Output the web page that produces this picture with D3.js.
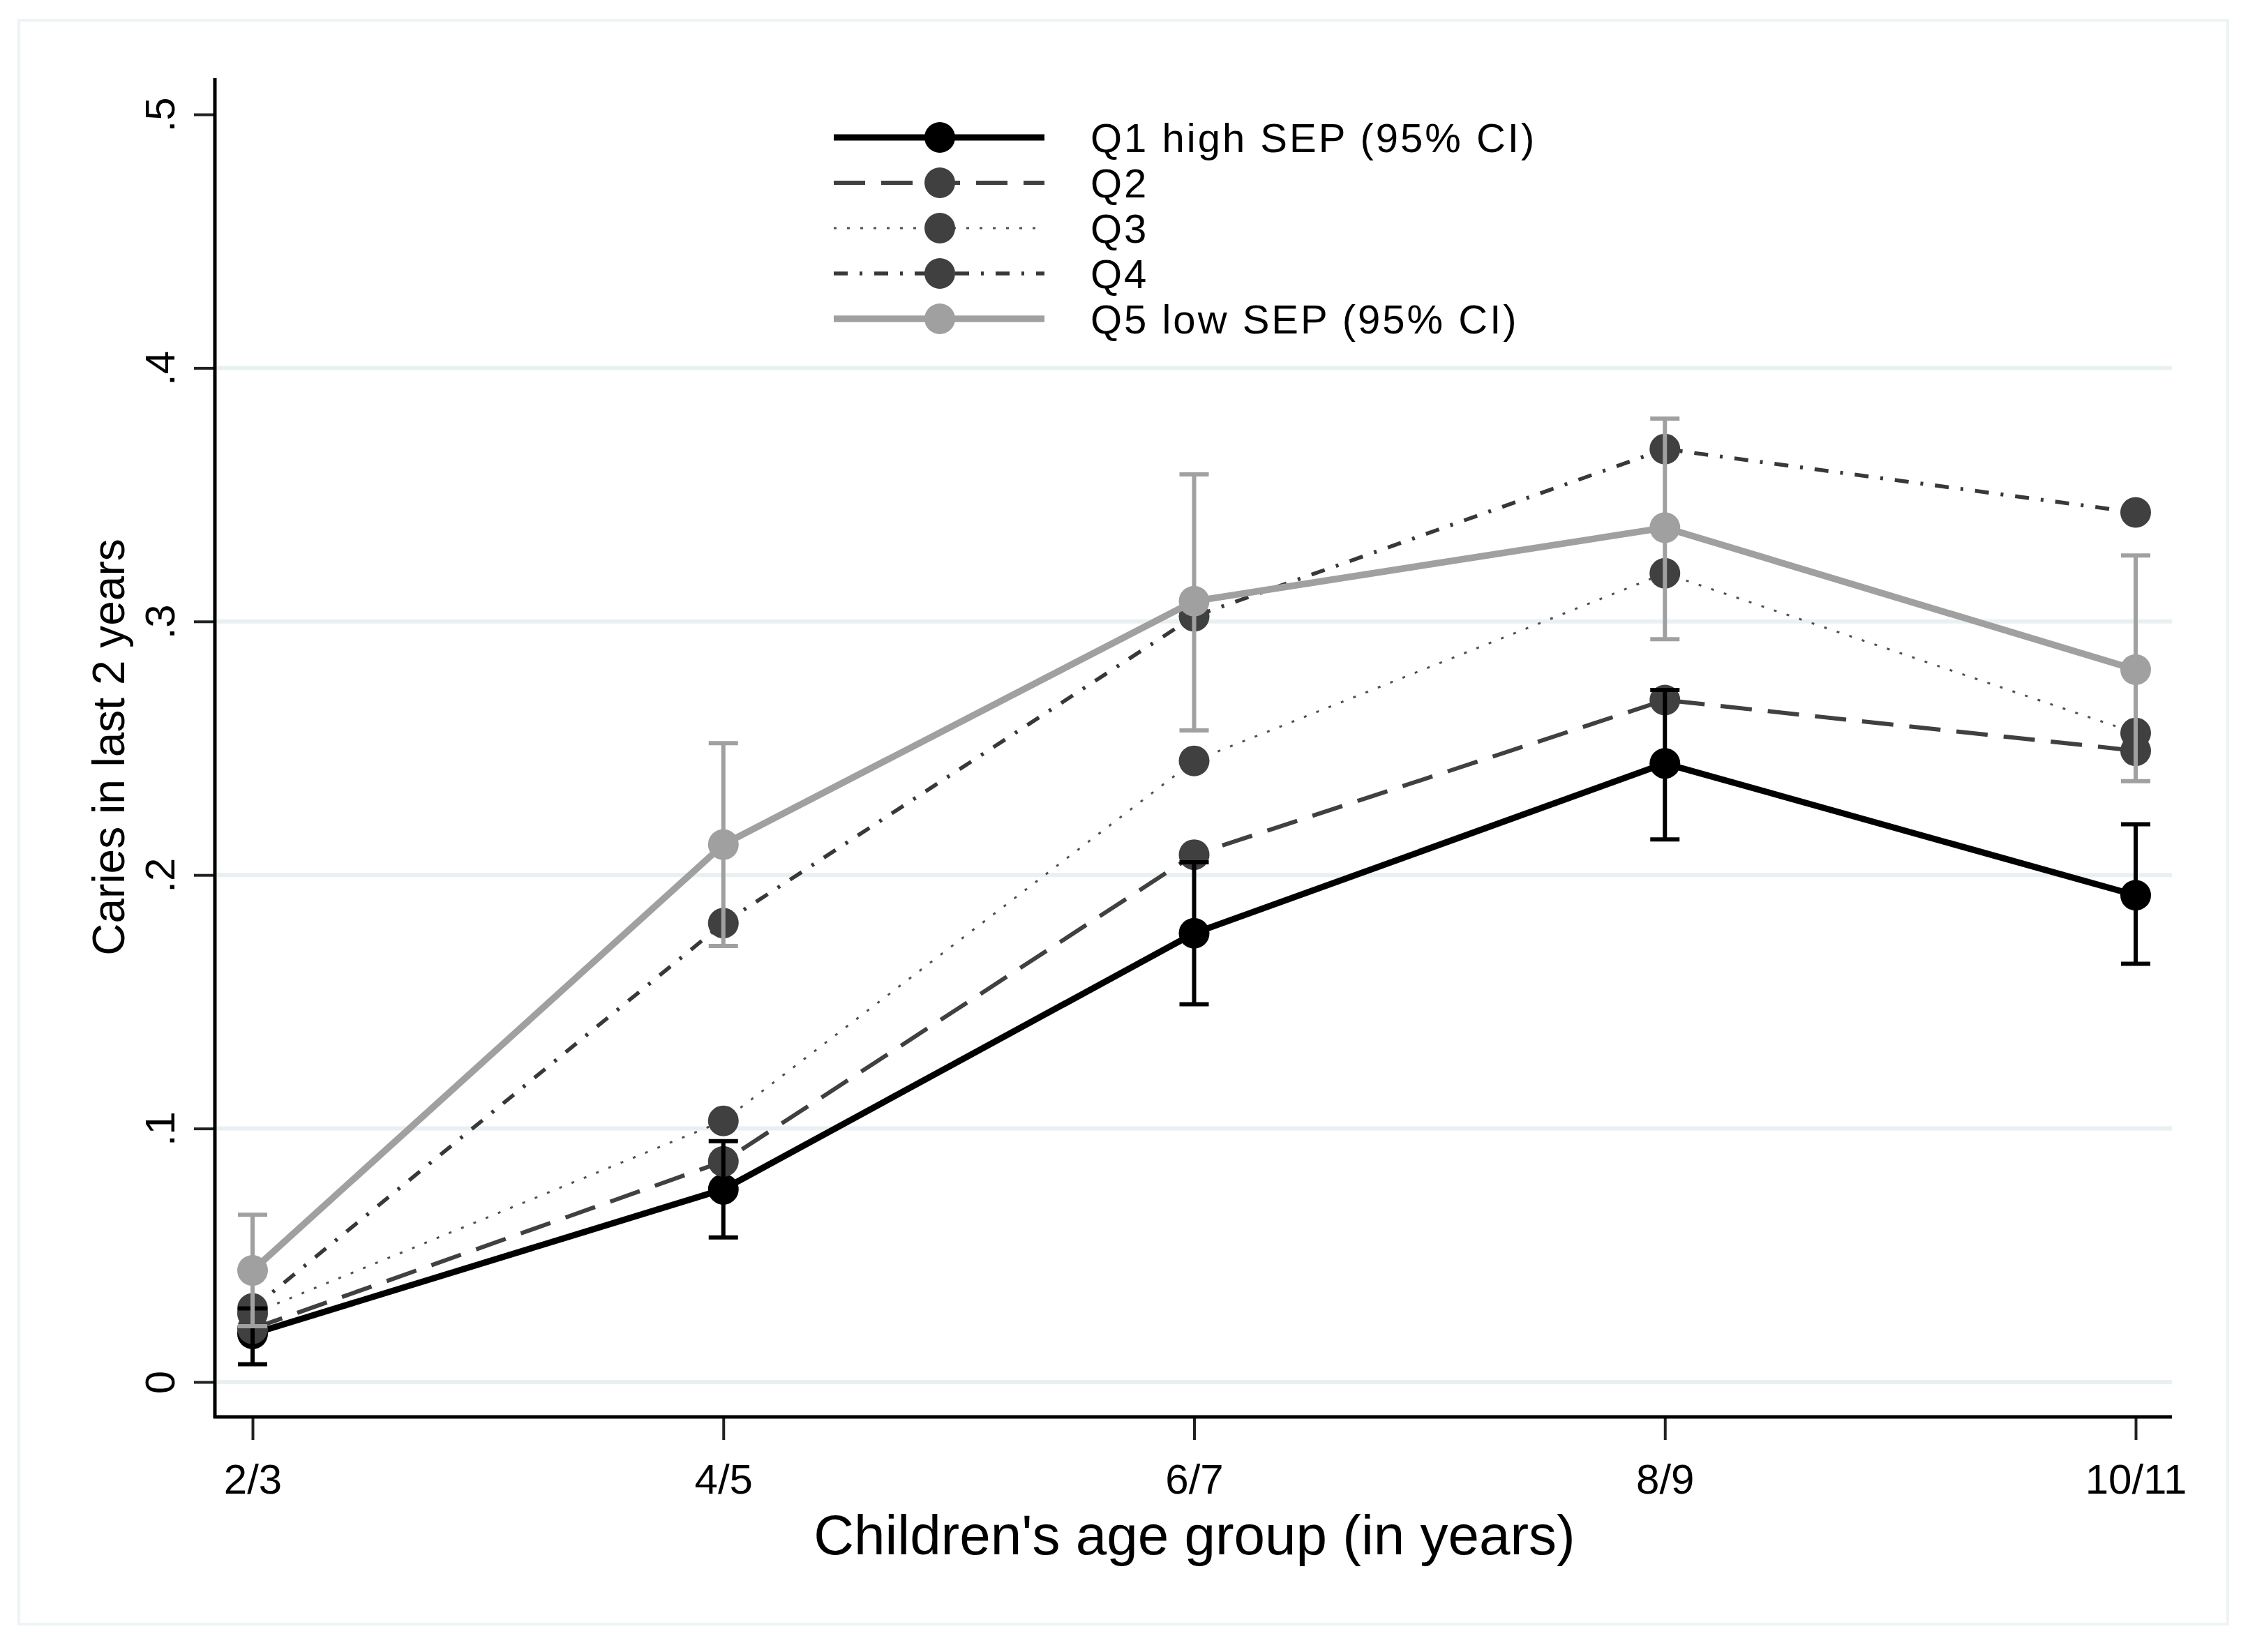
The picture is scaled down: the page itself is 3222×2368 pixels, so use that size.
<!DOCTYPE html>
<html>
<head>
<meta charset="utf-8">
<script src="https://cdn.jsdelivr.net/npm/d3@7"></script>
<style>
  html, body { margin: 0; padding: 0; background: #fff; }
  text { font-family: Arial, "Liberation Sans", sans-serif; fill: #000; }
</style>
</head>
<body>
<div id="chart"></div>
<script>
// age groups on the x axis
const ages = ["2/3", "4/5", "6/7", "8/9", "10/11"];
const yTicks = [0, 0.1, 0.2, 0.3, 0.4, 0.5];

// proportion with caries in last 2 years, by SEP quintile
const q1 = [0.019, 0.076, 0.177, 0.244, 0.192];
const q1Lo = [0.007, 0.057, 0.149, 0.214, 0.165];
const q1Hi = [0.029, 0.095, 0.205, 0.273, 0.220];
const q2 = [0.021, 0.087, 0.208, 0.269, 0.249];
const q3 = [0.027, 0.103, 0.245, 0.319, 0.256];
const q4 = [0.029, 0.181, 0.302, 0.368, 0.343];
const q5 = [0.044, 0.212, 0.308, 0.337, 0.281];
const q5Lo = [0.022, 0.172, 0.257, 0.293, 0.237];
const q5Hi = [0.066, 0.252, 0.358, 0.380, 0.326];

const labels = ["Q1 high SEP (95% CI)", "Q2", "Q3", "Q4", "Q5 low SEP (95% CI)"];

const width = 3222, height = 2368;
const plot = { left: 308, right: 3113, top: 112, bottom: 2031 };

const svg = d3.select("#chart").append("svg")
    .attr("width", width)
    .attr("height", height);

svg.append("rect").attr("width", width).attr("height", height).attr("fill", "#fff");
// faint outer graph region border
svg.append("rect")
    .attr("x", 27).attr("y", 29)
    .attr("width", 3166).attr("height", 2299)
    .attr("fill", "none")
    .attr("stroke", "#eef3f6")
    .attr("stroke-width", 4);

let x = d3.scalePoint()
    .domain(ages)
    .range([362, 3061]);
let y = d3.scaleLinear()
    .domain([0, 0.5])
    .range([1981, 164]);

// gridlines (none at .5)
svg.append("g").selectAll("line")
    .data(yTicks.filter(d => d < 0.5))
    .enter().append("line")
    .attr("x1", plot.left).attr("x2", plot.right)
    .attr("y1", d => y(d)).attr("y2", d => y(d))
    .attr("stroke", "#e8f0f2")
    .attr("stroke-width", 6);

// series definitions
let series = [
    { vals: q1, color: "#000000", marker: "#000000", width: 9, dash: null },
    { vals: q2, color: "#404040", marker: "#404040", width: 6, dash: "45,23" },
    { vals: q3, color: "#505050", marker: "#404040", width: 3, dash: "4,15" },
    { vals: q4, color: "#383838", marker: "#404040", width: 5.5, dash: "20,17,4,17" },
    { vals: q5, color: "#a0a0a0", marker: "#a0a0a0", width: 9.5, dash: null }
];

let line = d3.line()
    .x((d, i) => x(ages[i]))
    .y(d => y(d));

series.forEach(function (s) {
    let g = svg.append("g");
    g.append("path")
        .datum(s.vals)
        .attr("d", line)
        .attr("fill", "none")
        .attr("stroke", s.color)
        .attr("stroke-width", s.width)
        .attr("stroke-dasharray", s.dash)
        .attr("stroke-linejoin", "round");
    g.selectAll("circle")
        .data(s.vals)
        .enter().append("circle")
        .attr("cx", (d, i) => x(ages[i]))
        .attr("cy", d => y(d))
        .attr("r", 22)
        .attr("fill", s.marker);
});

// confidence intervals for Q1 and Q5
function ciBars(lo, hi, color) {
    let g = svg.append("g").attr("stroke", color).attr("stroke-width", 6);
    let rows = ages.map((a, i) => ({ age: a, lo: lo[i], hi: hi[i] }));
    g.selectAll(".v").data(rows).enter().append("line")
        .attr("x1", d => x(d.age)).attr("x2", d => x(d.age))
        .attr("y1", d => y(d.lo)).attr("y2", d => y(d.hi));
    ["lo", "hi"].forEach(function (k) {
        g.selectAll(".c" + k).data(rows).enter().append("line")
            .attr("x1", d => x(d.age) - 21).attr("x2", d => x(d.age) + 21)
            .attr("y1", d => y(d[k])).attr("y2", d => y(d[k]));
    });
}
ciBars(q1Lo, q1Hi, "#000000");
ciBars(q5Lo, q5Hi, "#a0a0a0");

// y axis
let yAxis = svg.append("g")
    .attr("transform", `translate(${plot.left}, 0)`)
    .call(d3.axisLeft(y).tickValues(yTicks).tickSize(30)
        .tickFormat(d => d === 0 ? "0" : d3.format(".1f")(d).replace("0.", ".")));
yAxis.select(".domain").remove();
yAxis.selectAll(".tick line").attr("stroke", "#222").attr("stroke-width", 4);
yAxis.selectAll(".tick text")
    .attr("x", null).attr("dy", null)
    .attr("transform", "translate(-58, 0) rotate(-90)")
    .attr("text-anchor", "middle")
    .attr("font-size", 60)
    .attr("fill", "#000");

// x axis
let xAxis = svg.append("g")
    .attr("transform", `translate(0, ${plot.bottom + 2})`)
    .call(d3.axisBottom(x).tickSize(31).tickPadding(0));
xAxis.select(".domain").remove();
xAxis.selectAll(".tick line").attr("stroke", "#222").attr("stroke-width", 4);
xAxis.selectAll(".tick text")
    .attr("y", 108).attr("dy", null)
    .attr("font-size", 60)
    .attr("fill", "#000");

// axis lines
svg.append("line")
    .attr("x1", plot.left).attr("x2", plot.left)
    .attr("y1", plot.top).attr("y2", plot.bottom + 2)
    .attr("stroke", "#000").attr("stroke-width", 5);
svg.append("line")
    .attr("x1", plot.left - 2).attr("x2", plot.right)
    .attr("y1", plot.bottom).attr("y2", plot.bottom)
    .attr("stroke", "#000").attr("stroke-width", 5);

// axis titles
svg.append("text")
    .attr("x", 1712).attr("y", 2228)
    .attr("text-anchor", "middle")
    .attr("font-size", 80)
    .text("Children's age group (in years)");
svg.append("text")
    .attr("transform", "translate(178, 1071) rotate(-90)")
    .attr("text-anchor", "middle")
    .attr("font-size", 64)
    .text("Caries in last 2 years");

// legend
let rowY = d3.scalePoint().domain(labels).range([197, 457]);
let legend = svg.append("g");
series.forEach(function (s, i) {
    let yy = rowY(labels[i]);
    legend.append("line")
        .attr("x1", 1195).attr("x2", 1497)
        .attr("y1", yy).attr("y2", yy)
        .attr("stroke", s.color)
        .attr("stroke-width", s.width)
        .attr("stroke-dasharray", s.dash);
    legend.append("circle")
        .attr("cx", 1347).attr("cy", yy).attr("r", 22)
        .attr("fill", s.marker);
    legend.append("text")
        .attr("x", 1563).attr("y", yy + 21)
        .attr("font-size", 58)
        .attr("letter-spacing", 3)
        .text(labels[i]);
});
</script>
</body>
</html>
